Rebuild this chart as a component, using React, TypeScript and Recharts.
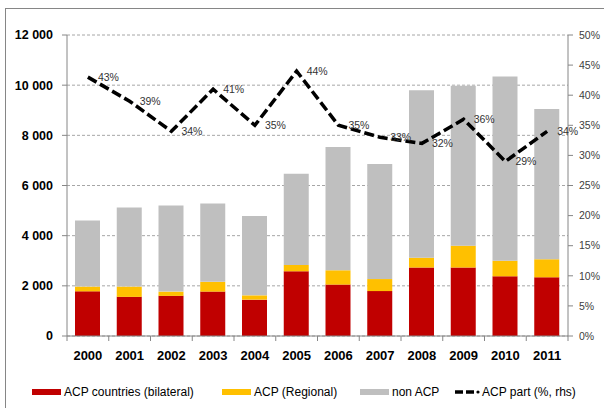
import React from 'react';
import {
	Bar,
	CartesianGrid,
	ComposedChart,
	LabelList,
	Line,
	XAxis,
	YAxis,
} from 'recharts';

// values (EUR million, share in %)
const years = ['2000', '2001', '2002', '2003', '2004', '2005', '2006', '2007', '2008', '2009', '2010', '2011'];
const acpBilateral = [1780, 1560, 1600, 1770, 1450, 2580, 2050, 1790, 2730, 2730, 2380, 2340];
const acpRegional = [190, 410, 170, 390, 170, 250, 570, 480, 390, 870, 620, 720];
const nonAcp = [2630, 3150, 3430, 3120, 3160, 3640, 4910, 4590, 6680, 6380, 7350, 5990];
const acpShare = [43, 39, 34, 41, 35, 44, 35, 33, 32, 36, 29, 34];

const leftTicks = [0, 2000, 4000, 6000, 8000, 10000, 12000];
const rightTicks = [0, 5, 10, 15, 20, 25, 30, 35, 40, 45, 50];

const legendItems = [
	{ label: 'ACP countries (bilateral)', color: '#C00000', kind: 'bar', left: 32 },
	{ label: 'ACP (Regional)', color: '#FFC000', kind: 'bar', left: 222 },
	{ label: 'non ACP', color: '#BFBFBF', kind: 'bar', left: 360 },
	{ label: 'ACP part (%, rhs)', color: '#000000', kind: 'line', left: 455 },
];

const data = years.map((year, i) => ({
	year,
	bilateral: acpBilateral[i],
	regional: acpRegional[i],
	nonAcp: nonAcp[i],
	share: acpShare[i],
}));

const AXIS = '#868686';
const FONT = '"Liberation Sans", Arial, sans-serif';
const BAND = 501 / years.length;

const fmtThousands = (v: number) => String(v).replace(/\B(?=(\d{3})+(?!\d))/g, ' ');

function YearTick(props: any) {
	const { x, y, payload, index } = props;
	const half = BAND / 2;
	return (
		<g>
			<line x1={x - half} x2={x - half} y1={y} y2={y + 5} stroke={AXIS} />
			{index === years.length - 1 && (
				<line x1={x + half} x2={x + half} y1={y} y2={y + 5} stroke={AXIS} />
			)}
			<text x={x} y={y + 24} textAnchor="middle" fontSize={13} fontWeight="bold" fill="#000">
				{payload.value}
			</text>
		</g>
	);
}

function ShareLabel(props: any) {
	const { x, y, value } = props;
	return (
		<text x={x + 10} y={y + 4} fontSize={10.5} fill="#333">
			{`${value}%`}
		</text>
	);
}

function LegendBox() {
	return (
		<div style={{ position: 'absolute', left: 0, top: 383, width: 604, height: 18 }}>
			{legendItems.map((item) => (
				<div
					key={item.label}
					style={{
						position: 'absolute',
						left: item.left,
						top: 0,
						display: 'flex',
						alignItems: 'center',
						height: 18,
						fontSize: 12,
						color: '#000',
						whiteSpace: 'nowrap',
					}}
				>
					{item.kind === 'bar' ? (
						<span style={{ display: 'inline-block', width: 29, height: 6, background: item.color, marginRight: 3 }} />
					) : (
						<svg width={26} height={8} style={{ marginRight: 1 }}>
							<line x1={0} x2={8} y1={4} y2={4} stroke="#000" strokeWidth={3.5} />
							<line x1={11} x2={19} y1={4} y2={4} stroke="#000" strokeWidth={3.5} />
							<circle cx={23} cy={4} r={1.6} fill="#000" />
						</svg>
					)}
					<span>{item.label}</span>
				</div>
			))}
		</div>
	);
}

export default function App() {
	return (
		<div
			style={{
				position: 'absolute',
				left: 0,
				top: 0,
				width: 604,
				height: 408,
				background: '#fff',
				fontFamily: FONT,
				overflow: 'hidden',
			}}
		>
			{/* outer chart frame, only left and top edges are visible */}
			<div
				style={{
					position: 'absolute',
					left: 5,
					top: 8,
					width: 700,
					height: 500,
					borderLeft: `1px solid ${AXIS}`,
					borderTop: `1px solid ${AXIS}`,
				}}
			/>
			<ComposedChart
				width={604}
				height={408}
				data={data}
				margin={{ top: 35, right: 0, bottom: 42, left: 0 }}
				barSize={25}
				style={{ position: 'absolute', left: 0, top: 0 }}
			>
				<CartesianGrid yAxisId="left" vertical={false} stroke="#a6a6a6" strokeDasharray="3 2" />
				<XAxis
					dataKey="year"
					height={30}
					axisLine={{ stroke: AXIS }}
					tickLine={false}
					tickSize={0}
					tickMargin={0}
					tick={<YearTick />}
					interval={0}
				/>
				<YAxis
					yAxisId="left"
					width={67}
					domain={[0, 12000]}
					ticks={leftTicks}
					tickFormatter={fmtThousands}
					tick={{ fill: '#000', fontSize: 12.5, fontWeight: 'bold' }}
					tickSize={5}
					tickMargin={9}
					axisLine={{ stroke: AXIS }}
					tickLine={{ stroke: AXIS }}
				/>
				<YAxis
					yAxisId="right"
					orientation="right"
					width={36}
					domain={[0, 50]}
					ticks={rightTicks}
					tickFormatter={(v: number) => `${v}%`}
					tick={{ fill: '#404040', fontSize: 10.5, textAnchor: 'start' }}
					tickSize={5}
					tickMargin={6}
					axisLine={{ stroke: AXIS }}
					tickLine={{ stroke: AXIS }}
				/>
				<Bar yAxisId="left" dataKey="bilateral" stackId="a" fill="#C00000" isAnimationActive={false} />
				<Bar yAxisId="left" dataKey="regional" stackId="a" fill="#FFC000" isAnimationActive={false} />
				<Bar yAxisId="left" dataKey="nonAcp" stackId="a" fill="#BFBFBF" isAnimationActive={false} />
				<Line
					yAxisId="right"
					type="linear"
					dataKey="share"
					stroke="#000"
					strokeWidth={3.5}
					strokeDasharray="10 4"
					dot={false}
					activeDot={false}
					isAnimationActive={false}
				>
					<LabelList dataKey="share" content={<ShareLabel />} />
				</Line>
			</ComposedChart>
			<LegendBox />
		</div>
	);
}
